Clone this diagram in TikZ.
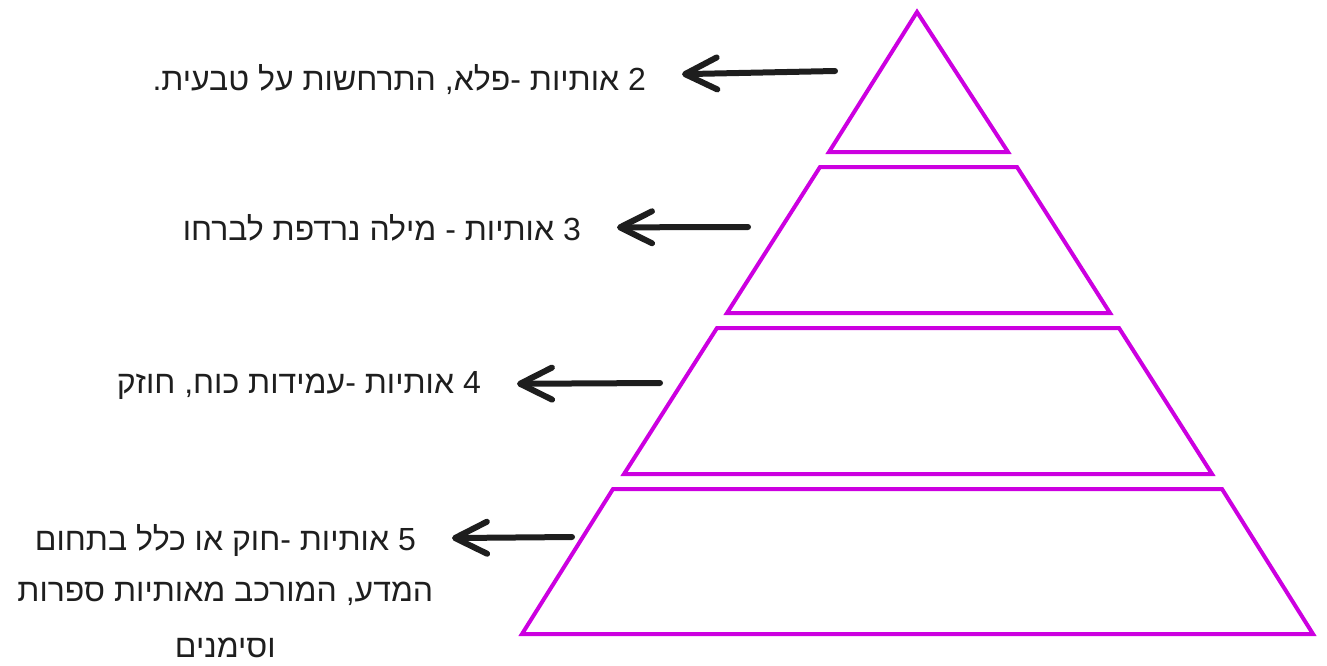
\documentclass[tikz,border=0pt]{standalone}
\usepackage{fontspec}
\setmainfont[Script=Hebrew]{Liberation Sans}
\usepackage{tikz}
\usetikzlibrary{arrows.meta, positioning}
\TeXXeTstate=1
\definecolor{pyr}{HTML}{CC00E0}
\definecolor{ink}{HTML}{1E1E1E}

\begin{document}
\begin{tikzpicture}[
            x=1pt, y=-1pt,
            tier/.style={draw=pyr, line width=4pt},
            lbl/.style={font=\fontsize{32}{56}\selectfont, inner sep=2pt, align=center, text=ink},
            arr/.style={-{Straight Barb[length=32pt, width=32pt, round]}, line width=6pt, line cap=round, draw=ink, shorten >=34pt}
        ]
            \useasboundingbox (0,0) rectangle (1327,665);

            % pyramid, top to bottom
            \draw[tier] (917,12) -- (1008,152) -- (829,152) -- cycle;
            \draw[tier] (820,167) -- (1017,167) -- (1110,313) -- (727,313) -- cycle;
            \draw[tier] (717,328) -- (1119,328) -- (1212,474) -- (624,474) -- cycle;
            \draw[tier] (613,489) -- (1222,489) -- (1313,634) -- (522,634) -- cycle;

            % tails of the arrows
            \coordinate (t2) at (835,71);
            \coordinate (t3) at (748,227);
            \coordinate (t4) at (660,383);
            \coordinate (t5) at (572,537);

            \node[lbl, anchor=east] (two)   at (648,80)  {\beginR 2 אותיות -פלא, התרחשות על טבעית.\endR};
            \node[lbl, anchor=east] (three) at (583,228) {\beginR 3 אותיות - מילה נרדפת לברחו\endR};
            \node[lbl, anchor=east] (four)  at (483,385) {\beginR 4 אותיות -עמידות כוח, חוזק\endR};
            \node[lbl, anchor=east] (five)  at (418,540) {\beginR 5 אותיות -חוק או כלל בתחום\endR};
            \node[lbl, below=22pt of five] (fiverest) {\beginR המדע, המורכב מאותיות ספרות\endR\\\beginR וסימנים\endR};

            \draw[arr] (t2) -- (two);
            \draw[arr] (t3) -- (three);
            \draw[arr] (t4) -- (four);
            \draw[arr] (t5) -- (five);
        \end{tikzpicture}
\end{document}
